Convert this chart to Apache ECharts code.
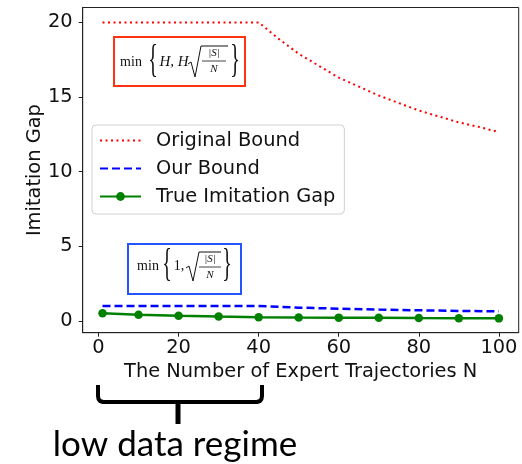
<!DOCTYPE html>
<html><head><meta charset="utf-8">
<script src="https://cdn.jsdelivr.net/npm/echarts@6/dist/echarts.min.js"></script>
<style>html,body{margin:0;padding:0;background:#fff}#c{width:522px;height:464px}</style>
</head><body><div id="c"></div>
<script>
const xTicks = [0, 20, 40, 60, 80, 100];
const yTicks = [0, 5, 10, 15, 20];
const originalN = [1, 5, 10, 15, 20, 25, 30, 35, 40, 45, 50, 55, 60, 65, 70, 75, 80, 85, 90, 95, 100];
const originalBound = [20, 20, 20, 20, 20, 20, 20, 20, 20, 18.9, 17.9, 17.1, 16.3, 15.7, 15.1, 14.6, 14.1, 13.7, 13.3, 13.0, 12.65];
const ourN = [1, 10, 20, 30, 40, 50, 60, 70, 80, 90, 100];
const ourBound = [1.0, 1.0, 1.0, 1.0, 1.0, 0.89, 0.82, 0.76, 0.71, 0.67, 0.64];
const trueN = [1, 10, 20, 30, 40, 50, 60, 70, 80, 90, 100];
const trueGap = [0.52, 0.42, 0.35, 0.29, 0.25, 0.23, 0.22, 0.21, 0.19, 0.18, 0.17];

const chart = echarts.init(document.getElementById('c'), null, {renderer: 'canvas'});
const sans = 'DejaVu Sans';
const serif = 'Liberation Serif';
const FS = 19.4;
const txt = (x, y, t, size, extra) => Object.assign({
  type: 'text', x: x, y: y, z: 20,
  style: Object.assign({text: t, fontSize: size, fontFamily: serif, fill: '#111', align: 'center', verticalAlign: 'middle'}, extra || {})
});
const brace = (x, y, t) => ({type: 'text', x: x, y: y, z: 20, scaleX: 0.5,
  style: {text: t, fontSize: 40, fontFamily: serif, fill: '#111', align: 'center', verticalAlign: 'middle'}});

chart.setOption({
  animation: false,
  backgroundColor: '#fff',
  grid: {left: 82.7, right: 3.3, top: 7.5, bottom: 131.3, show: true, borderColor: '#222', borderWidth: 1, containLabel: false},
  xAxis: {
    type: 'value', min: -3.95, max: 104.95,
    axisLine: {show: true, onZero: false, lineStyle: {color: '#222', width: 1}},
    splitLine: {show: false},
    axisTick: {show: true, inside: false, length: 4, lineStyle: {color: '#222'}, customValues: xTicks},
    axisLabel: {fontSize: FS, fontFamily: sans, color: '#111', margin: 6, customValues: xTicks},
    name: 'The Number of Expert Trajectories N', nameLocation: 'middle', nameGap: 30, nameMoveOverlap: false,
    nameTextStyle: {fontSize: FS, fontFamily: sans, color: '#111'}
  },
  yAxis: {
    type: 'value', min: -0.79, max: 21.0,
    axisLine: {show: true, onZero: false, lineStyle: {color: '#222', width: 1}},
    splitLine: {show: false},
    axisTick: {show: true, inside: false, length: 4, lineStyle: {color: '#222'}, customValues: yTicks},
    axisLabel: {fontSize: FS, fontFamily: sans, color: '#111', margin: 10, customValues: yTicks},
    name: 'Imitation Gap', nameLocation: 'middle', nameGap: 38, nameRotate: 90, nameMoveOverlap: false,
    nameTextStyle: {fontSize: FS, fontFamily: sans, color: '#111'}
  },
  legend: {
    orient: 'vertical', left: 92, top: 125,
    padding: [6, 9, 8, 7], itemGap: 9, itemWidth: 41, itemHeight: 11,
    borderColor: '#d0d0d0', borderWidth: 1, borderRadius: 4, backgroundColor: 'rgba(255,255,255,0.8)',
    textStyle: {fontSize: FS, fontFamily: sans, color: '#111', padding: [0, 0, 0, 10]},
    data: [
      {name: 'Original Bound', itemStyle: {opacity: 0}},
      {name: 'Our Bound', itemStyle: {opacity: 0}},
      {name: 'True Imitation Gap'}
    ]
  },
  series: [
    {name: 'Original Bound', type: 'line', symbol: 'none', color: '#ff0000',
      lineStyle: {color: '#ff0000', width: 2, type: [2, 3.5]},
      data: originalN.map((n, i) => [n, originalBound[i]])},
    {name: 'Our Bound', type: 'line', symbol: 'none', color: '#0000ff',
      lineStyle: {color: '#0000ff', width: 2.5, type: [8, 4]},
      data: ourN.map((n, i) => [n, ourBound[i]])},
    {name: 'True Imitation Gap', type: 'line', symbol: 'circle', symbolSize: 8.5, color: '#008000',
      lineStyle: {color: '#008000', width: 2.5}, itemStyle: {color: '#008000'},
      data: trueN.map((n, i) => [n, trueGap[i]])}
  ],
  graphic: [
    {type: 'rect', z: 19, shape: {x: 114, y: 37, width: 131, height: 49}, style: {fill: '#fff', stroke: '#ff3311', lineWidth: 2}},
    txt(131, 62, 'min', 14),
    brace(153, 61, '{'),
    txt(174, 62, 'H, H', 15, {fontStyle: 'italic'}),
    {type: 'polyline', z: 20, shape: {points: [[188, 64], [191, 62], [195, 77], [201, 46], [228, 46]]}, style: {stroke: '#111', lineWidth: 1, fill: 'none'}},
    txt(214, 53, '|S|', 11, {fontStyle: 'italic'}),
    {type: 'line', z: 20, shape: {x1: 202, y1: 61, x2: 226, y2: 61}, style: {stroke: '#111', lineWidth: 0.8}},
    txt(214, 69, 'N', 11, {fontStyle: 'italic'}),
    brace(235, 61, '}'),

    {type: 'rect', z: 19, shape: {x: 128, y: 244, width: 113, height: 50}, style: {fill: '#fff', stroke: '#2255ff', lineWidth: 2}},
    txt(148, 266, 'min', 14),
    brace(167, 265, '{'),
    txt(179, 266, '1,', 14),
    {type: 'polyline', z: 20, shape: {points: [[186, 268], [189, 266], [193, 281], [199, 252], [221, 252]]}, style: {stroke: '#111', lineWidth: 1, fill: 'none'}},
    txt(210, 259, '|S|', 11, {fontStyle: 'italic'}),
    {type: 'line', z: 20, shape: {x1: 199, y1: 267, x2: 221, y2: 267}, style: {stroke: '#111', lineWidth: 0.8}},
    txt(210, 275, 'N', 11, {fontStyle: 'italic'}),
    brace(227, 265, '}'),

    {type: 'polyline', z: 20, shape: {points: [[98, 385], [98, 396], [98.5, 399], [100, 401], [103, 402], [257, 402], [260, 401], [261.5, 399], [262, 396], [262, 385]]},
      style: {stroke: '#000', lineWidth: 4, fill: 'none', lineJoin: 'round'}},
    {type: 'line', z: 20, shape: {x1: 178, y1: 402, x2: 178, y2: 424}, style: {stroke: '#000', lineWidth: 5}},
    {type: 'text', x: 175, y: 445, z: 20, style: {text: 'low data regime', fontSize: 35, fontFamily: 'Lato', fill: '#000', align: 'center', verticalAlign: 'middle'}}
  ]
});
</script></body></html>
